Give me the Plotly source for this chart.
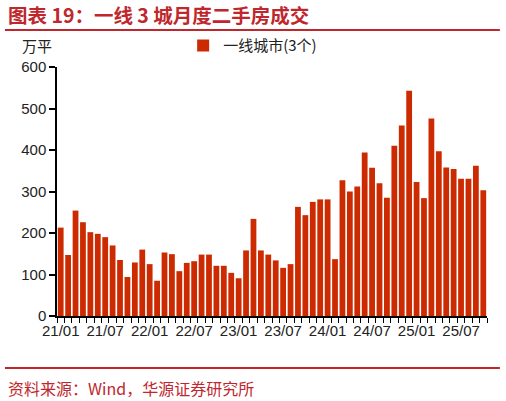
import plotly.graph_objects as go

# monthly second-hand housing deals, tier-1 cities (3), 万平
months = [f"{y:02d}/{m:02d}" for y in range(21, 26) for m in range(1, 13)][:58]
volume = [213, 147, 254, 226, 202, 198, 190, 170, 135, 94, 129, 160,
          125, 85, 153, 149, 108, 128, 132, 148, 148, 121, 121, 104,
          91, 158, 234, 158, 148, 134, 116, 125, 263, 243, 275, 281,
          281, 137, 327, 300, 312, 394, 357, 320, 285, 410, 459, 543,
          323, 284, 476, 397, 358, 354, 331, 331, 362, 303]
tick_labels = months[::6]
y_ticks = [0, 100, 200, 300, 400, 500, 600]

red = "#C0272D"
font_cn = "Noto Sans CJK SC"

fig = go.Figure(
    data=[
        go.Bar(
            x=list(range(len(volume))),
            y=volume,
            name="一线城市(3个)",
            marker=dict(color="#CC2A00", line=dict(width=0)),
        )
    ]
)

fig.update_layout(
    width=506,
    height=401,
    margin=dict(l=57, r=19, t=67, b=85),
    plot_bgcolor="white",
    paper_bgcolor="white",
    bargap=0.22,
    font=dict(family="Liberation Sans, Arial", size=15, color="#222"),
    showlegend=True,
    legend=dict(
        orientation="h",
        x=0.455, y=1.085, xanchor="center", yanchor="middle",
        font=dict(family=font_cn, size=15, color="#222"),
        bgcolor="rgba(0,0,0,0)",
    ),
)

fig.update_xaxes(
    range=[-0.5, len(volume) - 0.5],
    tickmode="array",
    tickvals=list(range(0, len(volume), 6)),
    ticktext=tick_labels,
    ticks="",
    showline=True, linecolor="black", linewidth=1.5,
    showgrid=False, zeroline=False,
    tickfont=dict(size=15, color="#222"),
    minor=dict(ticks="outside", tick0=-0.5, dtick=1, ticklen=5,
               tickcolor="black", tickwidth=1, showgrid=False),
)
fig.update_yaxes(
    range=[0, 600],
    tickvals=y_ticks,
    ticks="outside", ticklen=6, tickcolor="black", tickwidth=1.5,
    showline=True, linecolor="black", linewidth=1.5,
    showgrid=False, zeroline=False,
    tickfont=dict(size=15, color="#222"),
)

# header / footer lines
fig.add_shape(type="line", xref="paper", yref="paper",
              x0=-0.121, x1=1.03, y0=1.149, y1=1.149,
              line=dict(color=red, width=2))
fig.add_shape(type="line", xref="paper", yref="paper",
              x0=-0.121, x1=1.03, y0=-0.209, y1=-0.209,
              line=dict(color=red, width=2))

fig.add_annotation(text="<b>图表 19：一线 3 城月度二手房成交</b>",
                   xref="paper", yref="paper", x=-0.118, y=1.209,
                   xanchor="left", yanchor="middle", showarrow=False,
                   font=dict(family=font_cn, size=19.5, color=red))
fig.add_annotation(text="万平", xref="paper", yref="paper",
                   x=-0.047, y=1.088, xanchor="center", yanchor="middle",
                   showarrow=False,
                   font=dict(family=font_cn, size=15, color="#222"))
fig.add_annotation(text="资料来源：Wind，华源证券研究所",
                   xref="paper", yref="paper", x=-0.118, y=-0.289,
                   xanchor="left", yanchor="middle", showarrow=False,
                   font=dict(family=font_cn, size=16, color=red))

# drop the page's default 8px body margin so the figure sits at the corner
fig.write_html("out.html", config={"displayModeBar": False},
               post_script="document.body.style.margin='0';")
